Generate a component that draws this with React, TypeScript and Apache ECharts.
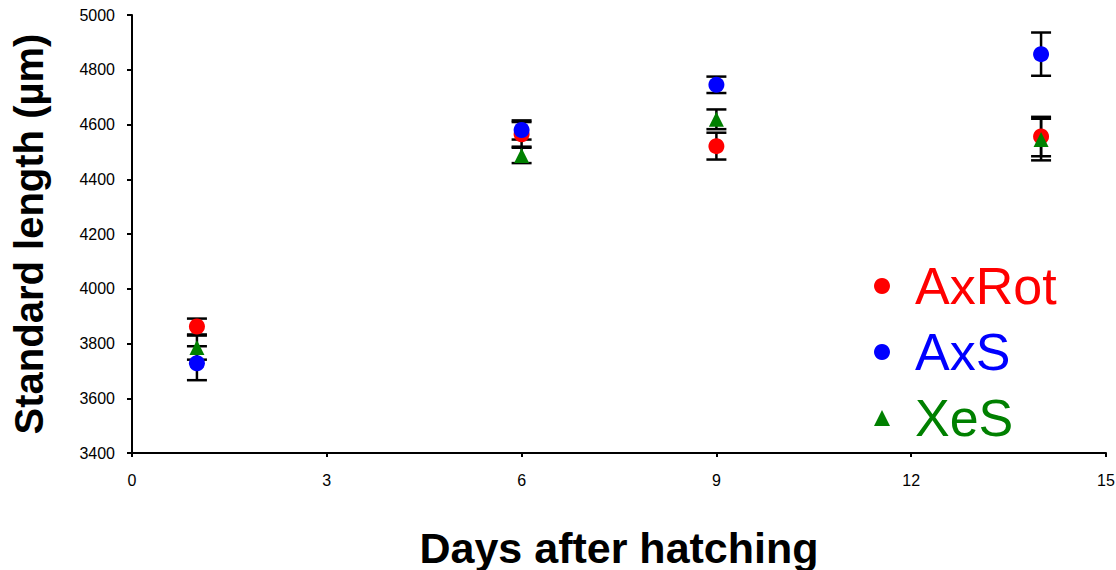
import React, { useEffect, useRef } from "react";
import * as echarts from "echarts";

const days = [1, 6, 9, 14];
const axRotMean = [3862, 4564, 4521, 4556];
const axRotErr = [29, 45, 49, 72];
const axSMean = [3728, 4580, 4745, 4857];
const axSErr = [62, 35, 30, 79];
const xeSMean = [3785, 4487, 4619, 4545];
const xeSErr = [44, 28, 36, 76];
const xTicks = [0, 3, 6, 9, 12, 15];

const seriesDefs = [
  { name: "AxRot", color: "#FF0000", mean: axRotMean, err: axRotErr, symbol: "circle", size: 16 },
  { name: "AxS", color: "#0000FF", mean: axSMean, err: axSErr, symbol: "circle", size: 16 },
  { name: "XeS", color: "#008000", mean: xeSMean, err: xeSErr, symbol: "triangle", size: 15 },
];

const FONT = "Liberation Sans, Arial, sans-serif";

export default function App() {
  const ref = useRef<HTMLDivElement>(null);
  useEffect(() => {
    if (!ref.current) return;
    const chart = echarts.init(ref.current, null, { renderer: "svg" });
    const errData: number[][] = [];
    seriesDefs.forEach((s) => {
      days.forEach((d, i) => errData.push([d, s.mean[i] - s.err[i], s.mean[i] + s.err[i]]));
    });
    const option: any = {
      animation: false,
      grid: { left: 132, right: 10, top: 15, bottom: 117, containLabel: false, outerBoundsMode: "none" },
      xAxis: {
        type: "value",
        min: 0,
        max: 15,
        interval: 3,
        name: "Days after hatching",
        nameLocation: "middle",
        nameGap: 73,
        nameTextStyle: { fontFamily: FONT, fontWeight: "bold", fontSize: 43, color: "#000" },
        axisLine: { lineStyle: { color: "#000", width: 2 } },
        axisTick: { show: true, length: 4, lineStyle: { color: "#000", width: 2 } },
        axisLabel: { fontFamily: FONT, fontSize: 16, color: "#000", margin: 19, formatter: (v: number) => (xTicks.includes(v) ? String(v) : "") },
        splitLine: { show: false },
      },
      yAxis: {
        type: "value",
        min: 3400,
        max: 5000,
        interval: 200,
        name: "Standard length (µm)",
        nameLocation: "middle",
        nameGap: 83,
        nameTextStyle: { fontFamily: FONT, fontWeight: "bold", fontSize: 40, color: "#000" },
        axisLine: { show: true, lineStyle: { color: "#000", width: 2 } },
        axisTick: { show: true, length: 5, lineStyle: { color: "#000", width: 2 } },
        axisLabel: { fontFamily: FONT, fontSize: 16, color: "#000", margin: 17, formatter: (v: number) => String(v) },
        splitLine: { show: false },
      },
      legend: {
        orient: "vertical",
        left: 869,
        top: 255,
        itemWidth: 16,
        itemHeight: 16,
        itemGap: 14,
        textStyle: { fontFamily: FONT, fontSize: 52, padding: [0, 0, 0, 20] },
        data: seriesDefs.map((s) => ({ name: s.name, icon: s.symbol, textStyle: { color: s.color } })),
      },
      series: [
        {
          type: "custom",
          name: "err",
          z: 1,
          data: errData,
          renderItem: (params: any, api: any) => {
            const x = api.value(0);
            const lo = api.coord([x, api.value(1)]);
            const hi = api.coord([x, api.value(2)]);
            const cw = 10;
            const style = { stroke: "#000", lineWidth: 2.5 };
            return {
              type: "group",
              children: [
                { type: "line", shape: { x1: lo[0], y1: lo[1], x2: hi[0], y2: hi[1] }, style },
                { type: "line", shape: { x1: lo[0] - cw, y1: lo[1], x2: lo[0] + cw, y2: lo[1] }, style },
                { type: "line", shape: { x1: hi[0] - cw, y1: hi[1], x2: hi[0] + cw, y2: hi[1] }, style },
              ],
            };
          },
        },
        ...seriesDefs.map((s) => ({
          type: "scatter",
          name: s.name,
          z: 2,
          symbol: s.symbol,
          symbolSize: s.size,
          itemStyle: { color: s.color, opacity: 1 },
          data: days.map((d, i) => [d, s.mean[i]]),
        })),
      ],
    };
    chart.setOption(option);
    return () => chart.dispose();
  }, []);
  return <div ref={ref} style={{ position: "absolute", left: 0, top: 0, width: 1116, height: 570 }} />;
}
